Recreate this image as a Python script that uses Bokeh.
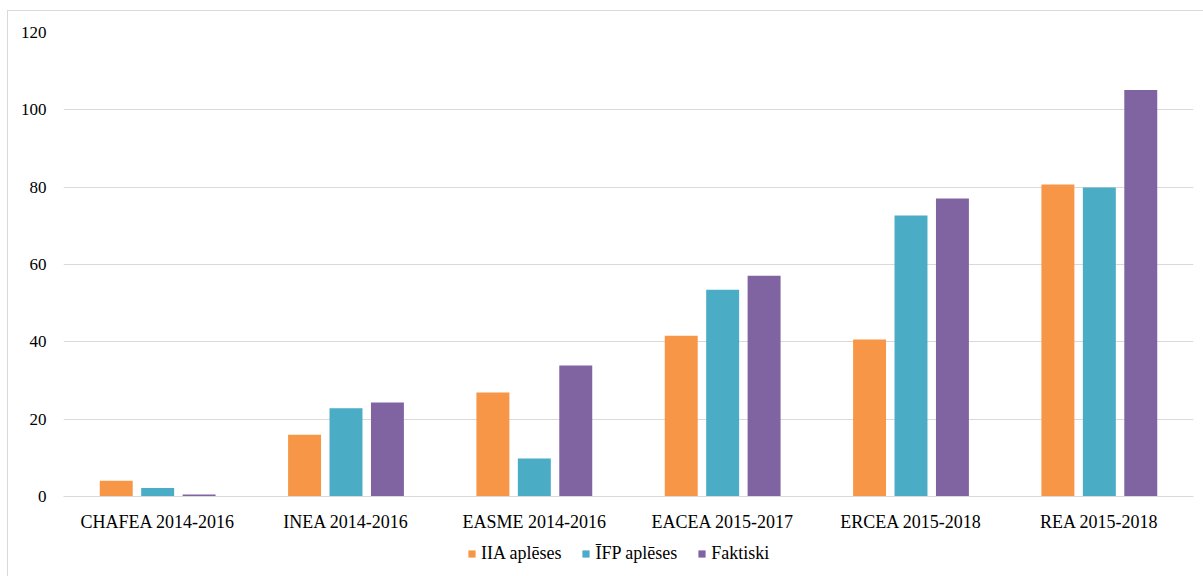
from bokeh.plotting import figure
from bokeh.layouts import column
from bokeh.models import ColumnDataSource, Range1d, FactorRange, Legend, LegendItem, FixedTicker
from bokeh.transform import dodge
from bokeh.embed import file_html
from bokeh.resources import INLINE

categories = ["CHAFEA 2014-2016", "INEA 2014-2016", "EASME 2014-2016",
              "EACEA 2015-2017", "ERCEA 2015-2018", "REA 2015-2018"]
iia = [4.1, 16.0, 26.9, 41.6, 40.6, 80.7]
ifp = [2.2, 22.8, 9.8, 53.5, 72.7, 79.9]
faktiski = [0.5, 24.3, 33.9, 57.1, 77.1, 105.1]
series_names = ["IIA aplēses", "ĪFP aplēses", "Faktiski"]
colors = ["#F79646", "#4BACC6", "#8064A2"]
y_ticks = [0, 20, 40, 60, 80, 100, 120]

src = ColumnDataSource(dict(cat=categories, iia=iia, ifp=ifp, fak=faktiski))
cols = ["iia", "ifp", "fak"]
offsets = [-0.22, 0, 0.22]

FONT = "Liberation Serif"
xr = FactorRange(*categories, range_padding=0)
p = figure(x_range=xr, y_range=Range1d(0, 120),
           width=1200, height=529, output_backend="svg", toolbar_location=None,
           min_border_left=55, min_border_top=21, min_border_right=15, min_border_bottom=44)
p.outline_line_color = None

for col, off, c in zip(cols, offsets, colors):
    p.vbar(x=dodge("cat", off, range=xr), top=col, width=0.175, source=src,
           fill_color=c, line_color=None)

p.yaxis.ticker = FixedTicker(ticks=y_ticks)
p.yaxis.axis_line_color = None
p.yaxis.major_tick_line_color = None
p.yaxis.minor_tick_line_color = None
p.yaxis.major_label_text_font = FONT
p.yaxis.major_label_text_font_size = "17px"
p.yaxis.major_label_text_color = "#000000"
p.yaxis.major_label_standoff = 11

p.xaxis.axis_line_color = "#d9d9d9"
p.xaxis.major_tick_line_color = None
p.xaxis.minor_tick_line_color = None
p.xaxis.major_label_text_font = FONT
p.xaxis.major_label_text_font_size = "18px"
p.xaxis.major_label_text_color = "#000000"
p.xaxis.major_label_standoff = 9

p.xgrid.grid_line_color = None
p.ygrid.grid_line_color = "#d9d9d9"
p.ygrid.ticker = FixedTicker(ticks=y_ticks)

# legend strip below the chart (same series, plotted out of its visible y window)
lg = figure(width=1200, height=40, output_backend="svg", toolbar_location=None,
            x_range=xr, y_range=Range1d(1000, 1001),
            min_border_left=0, min_border_right=0, min_border_top=0, min_border_bottom=0)
lg.outline_line_color = None
lg.xaxis.visible = False
lg.yaxis.visible = False
lg.grid.visible = False
lg_renderers = [lg.vbar(x=dodge("cat", off, range=xr), top=col, width=0.175, source=src,
                        fill_color=c, line_color=None)
                for col, off, c in zip(cols, offsets, colors)]

legend = Legend(items=[LegendItem(label=n, renderers=[r]) for n, r in zip(series_names, lg_renderers)],
                orientation="horizontal", location=(404, 16),
                glyph_width=9, glyph_height=9, label_standoff=5, spacing=20,
                label_text_font=FONT, label_text_font_size="18px", label_text_color="#000000",
                border_line_color=None, background_fill_alpha=0, padding=0, margin=0)
lg.add_layout(legend, "center")

layout = column(p, lg, spacing=0)
layout.margin = (10, 0, 0, 7)
layout.styles = {"border": "1px solid #d9d9d9"}

open("out.html", "w").write(file_html(layout, INLINE))
